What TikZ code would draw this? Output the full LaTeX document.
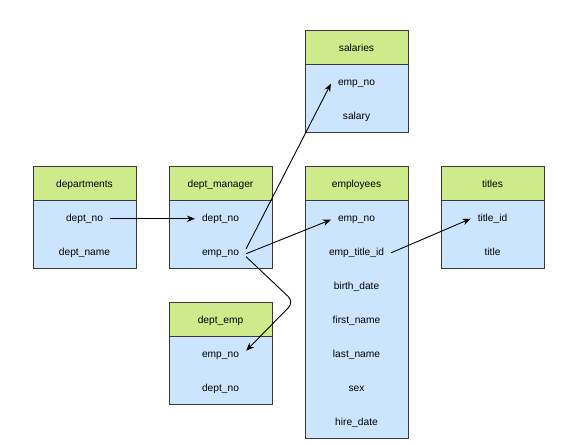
\documentclass[tikz,border=0pt]{standalone}
\usepackage{fontspec}
\setmainfont{Liberation Sans}
\usetikzlibrary{arrows.meta,calc}
\definecolor{hdr}{HTML}{CDEB8B}
\definecolor{bdy}{HTML}{CCE5FF}
\definecolor{frame}{HTML}{36393D}

% #1 title node name, #2 left x, #3 top y, #4 title, #5 number of rows, #6 rows as name/label
\newcommand\ertable[6]{%
  \draw[hdrbox] (#2,#3) rectangle ++(103,34);
  \draw[bodybox] (#2,#3+34) rectangle ++(103,34*#5);
  \node[field] (#1) at (#2+51.5,#3+21.4) {#4};
  \foreach \fid/\flab [count=\i] in {#6} {
    \node[field] (\fid) at (#2+51.5,#3+21.4+34*\i) {\flab};
  }%
}

\begin{document}
\begin{tikzpicture}[x=1pt,y=-1pt,
  hdrbox/.style={draw=frame, fill=hdr, line width=0.9pt},
  bodybox/.style={draw=frame, fill=bdy, line width=0.9pt},
  field/.style={anchor=base, inner xsep=7pt, inner ysep=2pt, text=black,
    font=\fontsize{10.2}{12}\selectfont},
  link/.style={draw=black, line width=0.9pt,
    -{Stealth[length=8pt,width=6.5pt]}}]
  \useasboundingbox (0,0) rectangle (564,445);

  \ertable{salaries}{305}{30}{salaries}{2}{sal-emp/emp\_no, sal-salary/salary}
  \ertable{departments}{33}{166}{departments}{2}{dep-no/dept\_no, dep-name/dept\_name}
  \ertable{deptmanager}{169}{166}{dept\_manager}{2}{dm-dept/dept\_no, dm-emp/emp\_no}
  \ertable{employees}{305}{166}{employees}{7}{emp-no/emp\_no, emp-title/emp\_title\_id,
    emp-birth/birth\_date, emp-first/first\_name, emp-last/last\_name,
    emp-sex/sex, emp-hire/hire\_date}
  \ertable{titles}{441}{166}{titles}{2}{tit-id/title\_id, tit-title/title}
  \ertable{deptemp}{169}{302}{dept\_emp}{2}{de-emp/emp\_no, de-dept/dept\_no}

  \coordinate (bend) at (294,302);

  \draw[link] (dep-no.east) -- (dm-dept.west);
  \draw[link] ([yshift=5pt]dm-emp.east) -- (sal-emp.west);
  \draw[link] (dm-emp.east) -- (emp-no.west);
  \draw[link, rounded corners=8pt] ([yshift=-3pt]dm-emp.east) -- (bend) -- ([yshift=5pt]de-emp.east);
  \draw[link] (emp-title.east) -- (tit-id.west);
\end{tikzpicture}
\end{document}
